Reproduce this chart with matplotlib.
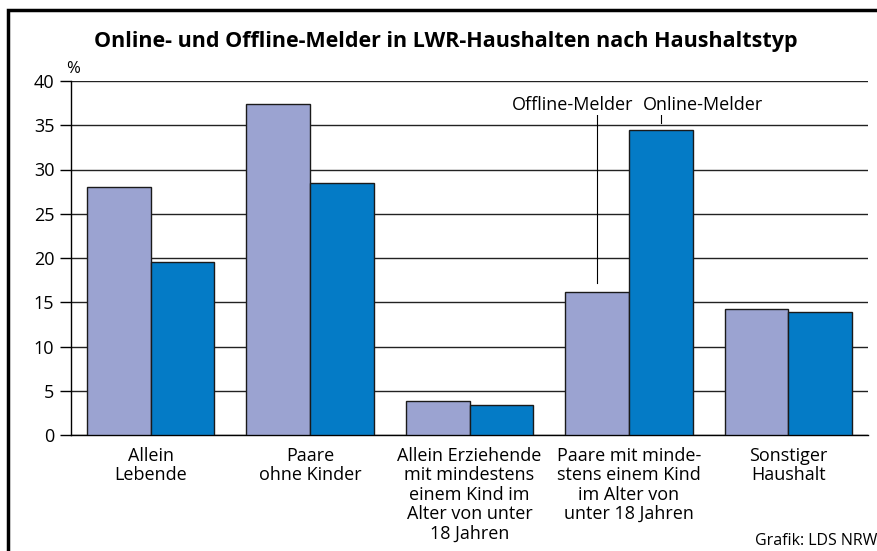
import matplotlib.pyplot as plt
from matplotlib.patches import Rectangle
import numpy as np

plt.rcParams["font.family"] = ["Open Sans", "DejaVu Sans"]

# data
categories = [
    "Allein\nLebende",
    "Paare\nohne Kinder",
    "Allein Erziehende\nmit mindestens\neinem Kind im\nAlter von unter\n18 Jahren",
    "Paare mit minde-\nstens einem Kind\nim Alter von\nunter 18 Jahren",
    "Sonstiger\nHaushalt",
]
offline = [28.0, 37.4, 3.8, 16.2, 14.2]
online = [19.5, 28.5, 3.4, 34.5, 13.9]

col_off = "#9BA3D1"
col_on = "#047BC6"

fig = plt.figure(figsize=(8.77, 5.51), dpi=100)
ax = fig.add_axes([71 / 877, 116 / 551, 797 / 877, 354 / 551])

x = np.arange(len(categories))
w = 0.4
ax.bar(x - w / 2, offline, w, color=col_off, edgecolor="#1a1a1a", linewidth=1, zorder=3)
ax.bar(x + w / 2, online, w, color=col_on, edgecolor="#1a1a1a", linewidth=1, zorder=3)

ax.set_xlim(-0.5, 4.5)
ax.set_ylim(0, 40)
ax.set_yticks(range(0, 41, 5))
ax.yaxis.grid(True, color="#222222", linewidth=1, zorder=0)
ax.set_axisbelow(True)
ax.tick_params(axis="y", length=8, width=1, labelsize=13, pad=4)
ax.set_xticks(x)
ax.set_xticklabels(categories, fontsize=13, linespacing=1.1)
ax.tick_params(axis="x", length=0, pad=8.5)
for s in ["top", "right"]:
    ax.spines[s].set_visible(False)
ax.spines["left"].set_linewidth(1)
ax.spines["bottom"].set_linewidth(1)

# series labels with pointer lines
ax.plot([3 - w / 2, 3 - w / 2], [17.2, 36.2], color="black", linewidth=0.8, zorder=4)
ax.plot([3 + w / 2, 3 + w / 2], [35.3, 36.4], color="black", linewidth=0.8, zorder=4)
ax.text(3.026, 37.3, "Offline-Melder", fontsize=13, ha="right", va="center",
        bbox=dict(facecolor="white", edgecolor="none", pad=1), zorder=5)
ax.text(3.088, 37.3, "Online-Melder", fontsize=13, ha="left", va="center",
        bbox=dict(facecolor="white", edgecolor="none", pad=1), zorder=5)

ax.text(0.002, 1.034, "%", transform=ax.transAxes, fontsize=12, ha="center", va="center")

fig.text(446 / 877, 1 - 41 / 551, "Online- und Offline-Melder in LWR-Haushalten nach Haushaltstyp",
         fontsize=15.5, fontweight="bold", ha="center", va="center")
fig.text(755 / 877, 1 - 541 / 551, "Grafik: LDS NRW", fontsize=11.5, ha="left", va="center")

# frame
fig.patches.append(Rectangle((8 / 877, -0.1), 1.2, 1 - 10 / 551 + 0.1, transform=fig.transFigure,
                             fill=False, edgecolor="black", linewidth=2.5))

fig.savefig("out.png", dpi=100)
